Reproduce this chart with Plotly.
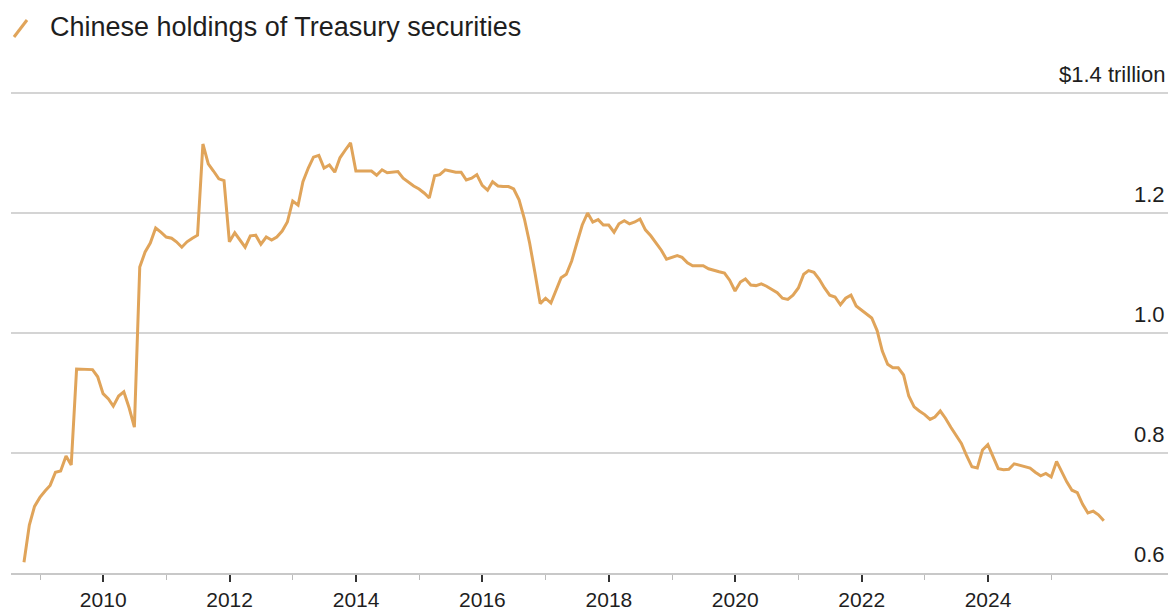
import plotly.graph_objects as go
import pandas as pd

# Monthly Chinese holdings of US Treasury securities ($ trillion), Sep 2008 onward
start_month = "2008-09-30"
holdings = [
    0.618, 0.680, 0.711, 0.726,                                                  # 2008 Sep-Dec
    0.737, 0.746, 0.768, 0.770, 0.795, 0.780, 0.940, 0.940, 0.940, 0.939, 0.927, 0.899,  # 2009
    0.890, 0.878, 0.895, 0.902, 0.875, 0.843, 1.110, 1.135, 1.150, 1.175, 1.168, 1.160,  # 2010
    1.158, 1.152, 1.143, 1.152, 1.158, 1.163, 1.315, 1.282, 1.270, 1.257, 1.254, 1.152,  # 2011
    1.167, 1.155, 1.143, 1.162, 1.163, 1.148, 1.160, 1.155, 1.160, 1.170, 1.185, 1.220,  # 2012
    1.213, 1.252, 1.275, 1.293, 1.296, 1.275, 1.280, 1.268, 1.292, 1.305, 1.317, 1.270,  # 2013
    1.270, 1.271, 1.270, 1.263, 1.272, 1.267, 1.268, 1.269, 1.258, 1.251, 1.245, 1.240,  # 2014
    1.233, 1.225, 1.262, 1.264, 1.272, 1.270, 1.268, 1.268, 1.255, 1.258, 1.264, 1.246,  # 2015
    1.238, 1.252, 1.245, 1.244, 1.244, 1.240, 1.222, 1.190, 1.150, 1.100, 1.049, 1.058,  # 2016
    1.050, 1.070, 1.092, 1.098, 1.120, 1.150, 1.180, 1.200, 1.185, 1.189, 1.180, 1.180,  # 2017
    1.168, 1.182, 1.187, 1.182, 1.185, 1.190, 1.172, 1.162, 1.151, 1.138, 1.123, 1.126,  # 2018
    1.129, 1.126, 1.117, 1.112, 1.112, 1.112, 1.107, 1.104, 1.102, 1.100, 1.088, 1.070,  # 2019
    1.085, 1.090, 1.080, 1.079, 1.082, 1.078, 1.073, 1.067, 1.058, 1.056, 1.063, 1.075,  # 2020
    1.098, 1.104, 1.101, 1.090, 1.075, 1.063, 1.060, 1.047, 1.058, 1.063, 1.045, 1.038,  # 2021
    1.032, 1.025, 1.004, 0.970, 0.948, 0.942, 0.942, 0.930, 0.895, 0.877, 0.870, 0.864,  # 2022
    0.856, 0.860, 0.870, 0.858, 0.843, 0.830, 0.816, 0.795, 0.777, 0.775, 0.805, 0.814,  # 2023
    0.793, 0.774, 0.772, 0.773, 0.782, 0.780, 0.777, 0.775, 0.768, 0.762, 0.766, 0.760,  # 2024
    0.786, 0.770, 0.752, 0.738, 0.734, 0.715, 0.700, 0.703, 0.697, 0.687,              # 2025
]
dates = pd.date_range(start_month, periods=len(holdings), freq="ME")

major_years = [2010, 2012, 2014, 2016, 2018, 2020, 2022, 2024]
minor_years = [2009, 2011, 2013, 2015, 2017, 2019, 2021, 2023, 2025]
y_ticks = [0.6, 0.8, 1.0, 1.2, 1.4]
y_ticktext = ["0.6", "0.8", "1.0", "1.2", "$1.4 trillion"]
legend_label = "Chinese holdings of Treasury securities"

LINE = "#E0A45A"
TEXT = "#1E1E1E"
GRID = "#D4D4D4"
FONT = "Liberation Sans, Arial, sans-serif"

W, H = 1173, 613
Y_MIN, Y_MAX = 0.6, 1.45
ML, MR, MT, MB = 11, 5, 63, 40
PW, PH = W - ML - MR, H - MT - MB

def px_x(x):
    return (x - ML) / PW

def px_y(y):
    return (H - MB - y) / PH

fig = go.Figure()
fig.add_trace(go.Scatter(
    x=dates, y=holdings, mode="lines",
    line=dict(color=LINE, width=3), hoverinfo="skip", showlegend=False,
))

fig.update_layout(
    width=W, height=H,
    margin=dict(l=ML, r=MR, t=MT, b=MB),
    paper_bgcolor="white", plot_bgcolor="white",
    font=dict(family=FONT, color=TEXT, size=22),
    xaxis=dict(
        type="date", automargin=False,
        range=["2008-07-17", "2026-11-06"],
        tickvals=[f"{y}-01-01" for y in major_years],
        ticktext=[str(y) for y in major_years],
        ticks="outside", ticklen=7, tickwidth=1.5, tickcolor="#333333",
        ticklabelstandoff=0,
        showline=True, linecolor="#C8C8C8", linewidth=1.5,
        showgrid=False, zeroline=False,
        tickfont=dict(size=21, color=TEXT),
        minor=dict(tickvals=[f"{y}-01-01" for y in minor_years],
                   ticks="outside", ticklen=5, tickwidth=1, tickcolor="#BBBBBB"),
    ),
    yaxis=dict(
        range=[Y_MIN, Y_MAX], side="right", automargin=False,
        tickvals=y_ticks, showticklabels=False,
        ticks="", showline=False, zeroline=False,
        showgrid=True, gridcolor=GRID, gridwidth=1.5,
    ),
)

# y tick labels sitting above their gridlines at the right edge
for v, t in zip(y_ticks, y_ticktext):
    fig.add_annotation(text=t, xref="paper", yref="y", x=1, y=v,
                       xanchor="right", yanchor="bottom", xshift=-1, yshift=4,
                       showarrow=False, font=dict(size=22, color=TEXT, family=FONT))

# legend key
fig.add_shape(type="line", xref="paper", yref="paper",
              x0=px_x(14), y0=px_y(37), x1=px_x(27), y1=px_y(20),
              line=dict(color=LINE, width=3))
fig.add_annotation(text=legend_label, xref="paper", yref="paper",
                   x=px_x(48), y=px_y(27), xanchor="left", yanchor="middle",
                   showarrow=False, font=dict(size=27, color=TEXT, family=FONT))

fig.write_html("out.html")
